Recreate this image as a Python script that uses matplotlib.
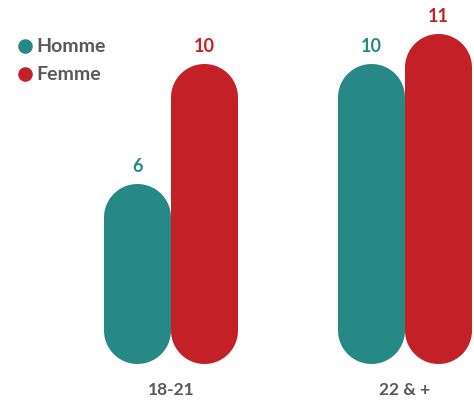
import matplotlib
matplotlib.use("Agg")
import numpy as np
import matplotlib.pyplot as plt
from matplotlib.patches import PathPatch
from matplotlib.path import Path

categories = ["18-21", "22 & +"]
series_names = ["Homme", "Femme"]
homme = [6, 10]
femme = [10, 11]
colors = ["#268985", "#c32127"]
text_gray = "#595959"

W, H = 474, 401
fig = plt.figure(figsize=(W / 100, H / 100), dpi=100)
ax = fig.add_axes([0, 0, 1, 1])

px_x = 234.0   # pixels per x unit
px_y = 30.0    # pixels per y unit
cx0 = 171.0    # pixel x of first category
base = 364.0   # pixel y (from top) of zero
ax.set_xlim(-cx0 / px_x, (W - cx0) / px_x)
ax.set_ylim(-(H - base) / px_y, base / px_y)
ax.axis("off")

bw = 67.0 / px_x
rx = bw / 2
ry = rx * px_x / px_y


def pill(x0, v):
    cx = x0 + rx
    t_top = np.linspace(0, np.pi, 60)
    t_bot = np.linspace(np.pi, 2 * np.pi, 60)
    top = np.column_stack([cx + rx * np.cos(t_top), v - ry + ry * np.sin(t_top)])
    bot = np.column_stack([cx + rx * np.cos(t_bot), ry + ry * np.sin(t_bot)])
    verts = np.vstack([top, bot, top[:1]])
    codes = [Path.MOVETO] + [Path.LINETO] * (len(verts) - 2) + [Path.CLOSEPOLY]
    return Path(verts, codes)


for si, vals in enumerate([homme, femme]):
    for ci, v in enumerate(vals):
        x0 = ci + (si - 1) * bw
        ax.add_patch(PathPatch(pill(x0, v), facecolor=colors[si],
                               edgecolor="none"))
        ax.text(x0 + bw / 2, v + 18 / px_y, str(v), ha="center", va="center",
                color=colors[si], fontsize=13, fontweight="bold", family="Lato")

for ci, c in enumerate(categories):
    ax.text(ci, -26 / px_y, c, ha="center", va="center", color=text_gray,
            fontsize=12.5, fontweight="bold", family="Lato")

for i, n in enumerate(series_names):
    yf = 1 - (46 + 28 * i) / H
    fig.lines.append(plt.Line2D([25 / W], [yf], marker="o", markersize=10.5,
                                markerfacecolor=colors[i], markeredgecolor="none",
                                linestyle="none", transform=fig.transFigure))
    fig.text(36 / W, yf, n, ha="left", va="center", color=text_gray,
             fontsize=14, fontweight="bold", family="Lato")

fig.savefig("out.png", dpi=100)
